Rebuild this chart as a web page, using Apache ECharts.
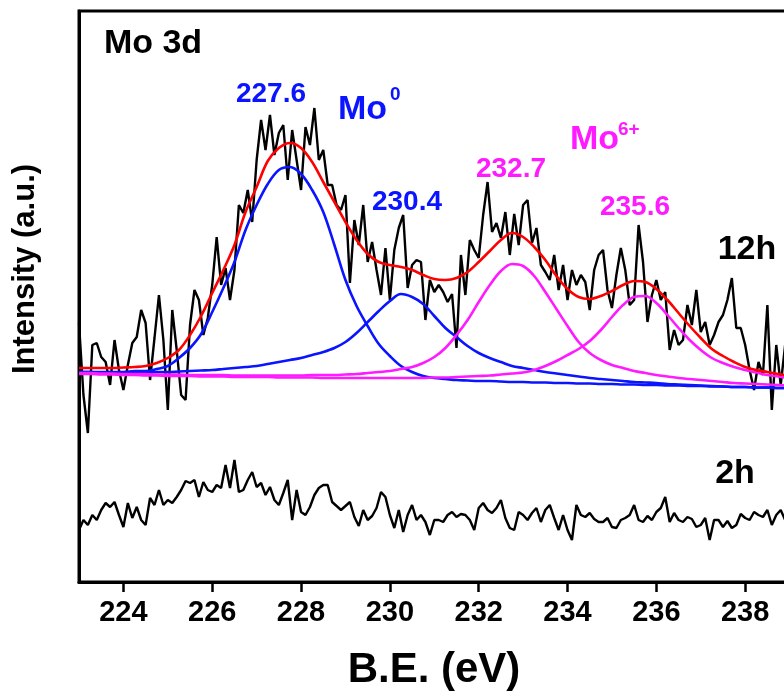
<!DOCTYPE html>
<html><head><meta charset="utf-8">
<script src="https://cdn.jsdelivr.net/npm/echarts@6/dist/echarts.min.js"></script>
<style>html,body{margin:0;padding:0;background:#fff;overflow:hidden;width:784px;height:693px}#c{width:860px;height:693px}</style>
</head><body><div id="c"></div><script>
// Binding energy grid of the measured spectra (eV)
const beStart = 223, beStep = 0.1;
// 12h spectrum intensity (a.u.)
const int12h = [259,187,149,237,239,225,220,197,242,212,
192,217,239,245,272,259,202,244,287,242,
172,272,232,187,182,257,292,282,247,264,
297,345,297,314,282,312,377,369,392,360,
422,462,432,467,427,449,457,402,452,422,
392,455,437,474,422,432,397,397,377,372,
387,299,362,337,377,320,340,312,287,334,
282,332,354,367,294,317,322,320,262,302,
290,297,290,280,288,234,327,287,342,332,
324,367,400,350,359,344,370,327,368,337,
377,382,339,354,317,310,302,327,292,317,
282,312,297,307,300,272,312,327,332,292,
274,307,334,312,277,282,357,320,260,287,
302,282,290,232,252,237,242,277,257,292,
250,260,237,247,260,267,282,304,254,254,
237,212,192,220,207,277,172,237,197,237,217];
// 2h spectrum intensity (a.u.)
const int2h = [52,62,57,67,62,72,79,75,80,67,
55,79,64,75,62,57,84,77,92,77,
82,79,85,92,101,99,102,85,100,92,
90,97,94,117,94,122,90,92,102,110,
95,99,87,95,82,77,89,102,62,92,
70,67,75,87,94,97,97,80,76,72,
76,80,65,56,72,62,66,74,90,85,
67,54,72,50,67,77,62,67,60,47,
62,62,60,67,70,65,68,67,62,52,
74,79,72,69,74,82,64,54,52,70,
67,62,69,74,60,72,77,64,52,67,
52,42,77,67,65,69,63,60,60,64,
55,54,62,64,67,77,62,60,66,62,
70,74,85,60,69,62,60,65,63,55,
57,64,42,62,62,55,61,54,57,68,
64,62,70,67,65,72,57,67,72,62,52];
// Fitted curves, 0.25 eV grid
const fitStart = 223, fitStep = 0.25;
const fitMo0_2276 = [210,210,210,210,210,211,211,213,216,224,
234,248,270,294,320,352,377,398,412,415,
408,392,370,337,302,276,256,238,226,216,
210,206,204,203,202,201.5,201,201,200.5,200,
200,199.5,199.5,199,199,198.5,198.5,198,198,197.5,
197.5,197,197,196.5,196.5,196,196,195.5,195.5,195,
195,194.5,194.5,194,194];
const fitMo0_2304 = [210,210,209.5,209.5,209.5,209.5,209.5,210,210,210.5,
211,211.5,212,213,214,215,216,218,220,222,
224,227,230,234,240,249,260,271,281,288,
285,278,266,254,245,236,229,224,220,216,
214,212,210,208.5,207,205.5,204,203,202,201,
200,199.5,199,198,197.5,197,196.5,196,195.5,195,
195,194.5,194.5,194,194];
const fitMo6_2327 = [209,209,208.5,208.5,208,208,208,207.5,207.5,207.5,
207,207,207,207,206.5,206.5,206.5,206.5,206.5,206.5,
206.5,207,207,207,207.5,208,209,210,211,213,
215,219,225,234,247,262,280,297,311,318,
316,306,290,273,256,240,229,222,217,214,
211,209,207,205.5,204,203,202,201,200,199,
198.5,198,197.5,197,196.5];
const fitMo6_2356 = [208,208,207.5,207.5,207,207,206.5,206.5,206,206,
206,205.5,205.5,205.5,205,205,205,205,204.5,204.5,
204.5,204.5,204,204,204,204,204,204,204,204,
204,204,204.5,204.5,205,205.5,206,206.5,207.5,208.5,
209.5,212,216,221,227,233,241,252,265,277,
285,286,279,267,254,242,232,224,219,215,
212,209.5,207,205.5,204];
const fitEnvelope = [214,214,214,214,214.5,215,216,219,224,232,
247,266,289,312,337,370,395,421,434,439,
434,420,400,380,360,342,328,320,317,315,
312,307,303,302,304,310,320,331,342,349,
345,335,322,306,293,285,283,286,291,297,
301,300,293,282,269,256,244,233,226,220,
215,212,210,208,206];
const xTicks = [224,226,228,230,232,234,236,238];

function pairs(start, step, arr) {
  return arr.map((v, i) => [Math.round((start + i * step) * 100) / 100, v]);
}

const FONT = '"Liberation Sans", Arial, Helvetica, sans-serif';
const BLUE = '#0a14ff', MAG = '#ff1aff', RED = '#ff0000';

function txt(x, y, text, size, color, align) {
  return { type: 'text', x: x, y: y, z: 100,
    style: { text: text, fill: color, font: 'bold ' + size + 'px ' + FONT,
      align: align || 'center', verticalAlign: 'middle' } };
}

const chart = echarts.init(document.getElementById('c'), null, { renderer: 'canvas' });
const fitLine = (name, arr, color) => ({
  name: name, type: 'line', data: pairs(fitStart, fitStep, arr), showSymbol: false,
  smooth: 0.35, lineStyle: { color: color, width: 2.6 }, silent: true, z: 3
});

chart.setOption({
  animation: false,
  backgroundColor: '#fff',
  grid: { left: 79, top: 11, width: 755, height: 571, show: true,
    borderColor: '#000', borderWidth: 3, backgroundColor: 'transparent' },
  xAxis: {
    type: 'value', min: 223, max: 240,
    axisLine: { show: true, onZero: false, lineStyle: { color: '#000', width: 3 } },
    axisTick: { show: true, inside: false, length: 10, customValues: xTicks,
      lineStyle: { color: '#000', width: 2.5 } },
    axisLabel: { show: true, customValues: xTicks, margin: 16, color: '#000',
      fontFamily: FONT, fontWeight: 'bold', fontSize: 29 },
    splitLine: { show: false }
  },
  yAxis: {
    type: 'value', min: 0, max: 571,
    axisLine: { show: true, lineStyle: { color: '#000', width: 3 } },
    axisTick: { show: false }, axisLabel: { show: false }, splitLine: { show: false }
  },
  series: [
    { name: '12h', type: 'line', data: pairs(beStart, beStep, int12h), showSymbol: false,
      lineStyle: { color: '#000', width: 2.4 }, z: 2, silent: true },
    { name: '2h', type: 'line', data: pairs(beStart, beStep, int2h), showSymbol: false,
      lineStyle: { color: '#000', width: 2.4 }, z: 2, silent: true },
    fitLine('Mo0 227.6', fitMo0_2276, BLUE),
    fitLine('Mo0 230.4', fitMo0_2304, BLUE),
    fitLine('Mo6+ 232.7', fitMo6_2327, MAG),
    fitLine('Mo6+ 235.6', fitMo6_2356, MAG),
    fitLine('Envelope', fitEnvelope, RED)
  ],
  graphic: [
    txt(153, 44, 'Mo 3d', 34, '#000'),
    txt(271, 94, '227.6', 28, BLUE),
    txt(338, 110, 'Mo', 34, BLUE, 'left'),
    txt(390, 95, '0', 19, BLUE, 'left'),
    txt(407, 202, '230.4', 28, BLUE),
    txt(511, 169, '232.7', 28, MAG),
    txt(570, 140, 'Mo', 34, MAG, 'left'),
    txt(618, 130, '6+', 19, MAG, 'left'),
    txt(635, 207, '235.6', 28, MAG),
    txt(747, 250, '12h', 34, '#000'),
    txt(735, 474, '2h', 34, '#000'),
    txt(434, 670, 'B.E. (eV)', 42, '#000'),
    { type: 'text', x: 25, y: 269, rotation: Math.PI / 2, z: 100,
      style: { text: 'Intensity (a.u.)', fill: '#000', font: 'bold 31px ' + FONT,
        align: 'center', verticalAlign: 'middle' } }
  ]
});
</script></body></html>
